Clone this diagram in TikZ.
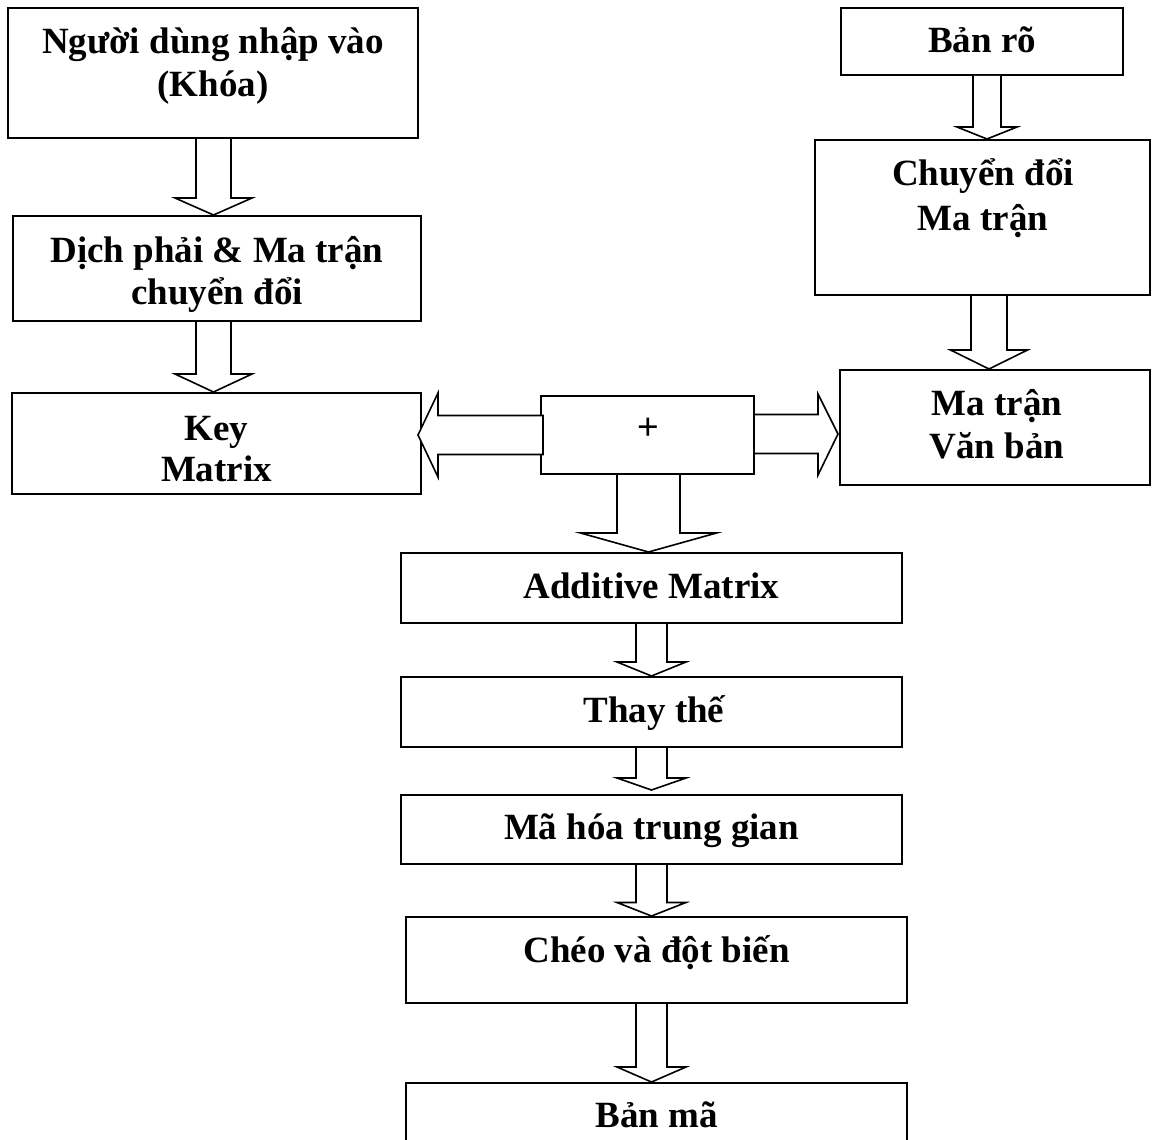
\documentclass[tikz,border=0pt]{standalone}
\usepackage{fontspec}
\setmainfont{Liberation Serif}
\newfontfamily\plusfont{Liberation Sans}
\usetikzlibrary{calc}
\tikzset{
  box/.style={draw, line width=2pt, inner sep=0pt, fill=white},
  txt/.style={anchor=base, inner sep=0pt, font=\bfseries\fontsize{37}{42}\selectfont},
  blk/.style={draw, line width=1.6pt, line join=miter, fill=white},
}
% vertical block arrow: #1 x centre, #2 start anchor, #3 end anchor, #4 half shaft, #5 half head, #6 head length
\newcommand{\vblk}[6]{%
  \draw[blk] let \p1=(#2), \p2=(#3) in
    (#1pt-#4pt,\y1) -- (#1pt-#4pt,\y2+#6pt) -- (#1pt-#5pt,\y2+#6pt) -- (#1pt,\y2)
    -- (#1pt+#5pt,\y2+#6pt) -- (#1pt+#4pt,\y2+#6pt) -- (#1pt+#4pt,\y1);}
\begin{document}
\begin{tikzpicture}[x=1pt,y=-1pt]
\useasboundingbox (0,0) rectangle (1152,1140);
\clip (0,0) rectangle (1152,1140);
% boxes
\node[box, minimum width=410pt, minimum height=130pt] (b1) at (213,73) {};
\node[box, minimum width=408pt, minimum height=105pt] (b2) at (217,268.5) {};
\node[box, minimum width=409pt, minimum height=101pt] (b3) at (216.5,443.5) {};
\node[box, minimum width=282pt, minimum height=67pt] (b4) at (982,41.5) {};
\node[box, minimum width=335pt, minimum height=155pt] (b5) at (982.5,217.5) {};
\node[box, minimum width=310pt, minimum height=115pt] (b6) at (995,427.5) {};
\node[box, minimum width=213pt, minimum height=78pt] (plus) at (647.5,435) {};
\node[box, minimum width=501pt, minimum height=70pt] (b7) at (651.5,588) {};
\node[box, minimum width=501pt, minimum height=70pt] (b8) at (651.5,712) {};
\node[box, minimum width=501pt, minimum height=69pt] (b9) at (651.5,829.5) {};
\node[box, minimum width=501pt, minimum height=86pt] (b10) at (656.5,960) {};
\node[box, minimum width=501pt, minimum height=77pt] (b11) at (656.5,1121.5) {};
% texts
\node[txt] (t1a) at (213,54) {Người dùng nhập vào};
\node[txt] (t1b) at (213,96) {(Khóa)};
\node[txt] (t2a) at (217,262) {Dịch phải \& Ma trận};
\node[txt] (t2b) at (217,304) {chuyển đổi};
\node[txt] (t3a) at (216.5,440) {Key};
\node[txt] (t3b) at (216.5,481) {Matrix};
\node[txt] (t4) at (982,53) {Bản rõ};
\node[txt] (t5a) at (983,185) {Chuyển đổi};
\node[txt] (t5b) at (983,230) {Ma trận};
\node[txt] (t6a) at (997,415) {Ma trận};
\node[txt] (t6b) at (997,458) {Văn bản};
\node[inner sep=0pt, font=\plusfont\fontsize{37}{42}\selectfont] (tp) at (648,429) {+};
\node[txt] (t7) at (651.5,598) {Additive Matrix};
\node[txt] (t8) at (654,722.5) {Thay thế};
\node[txt] (t9) at (651.5,839) {Mã hóa trung gian};
\node[txt] (t10) at (656.5,962) {Chéo và đột biến};
\node[txt] (t11) at (656.5,1127) {Bản mã};
% vertical block arrows
\vblk{213.5}{b1.south}{b2.north}{17.5}{38.5}{17}
\vblk{213.5}{b2.south}{b3.north}{17.5}{38.5}{18}
\vblk{987}{b4.south}{b5.north}{14}{30}{12}
\vblk{989}{b5.south}{b6.north}{18}{38.5}{19}
\vblk{648.5}{plus.south}{b7.north}{31.5}{68}{19}
\vblk{651.5}{b7.south}{b8.north}{15.5}{34.5}{14}
\coordinate (c9) at ($(b9.north)+(0,-4)$);
\vblk{651.5}{b8.south}{c9}{15.5}{34.5}{12}
\vblk{651.5}{b9.south}{b10.north}{15.5}{34.5}{13.5}
\vblk{651.5}{b10.south}{b11.north}{15.5}{34.5}{15}
% horizontal block arrows
\draw[blk] let \p1=(plus.west), \p2=(b3.east) in
  (\x1+3pt,\y1+19.5pt) -- (\x2+16pt,\y1+19.5pt) -- (\x2+16pt,\y1+42pt) -- (\x2-4pt,\y1)
  -- (\x2+16pt,\y1-42pt) -- (\x2+16pt,\y1-19.5pt) -- (\x1+3pt,\y1-19.5pt) -- cycle;
\draw[blk] let \p1=(plus.east), \p2=(b6.west) in
  (\x1,\y1+20.5pt) -- (\x2-21pt,\y1+20.5pt) -- (\x2-21pt,\y1+41pt) -- (\x2-1pt,\y1+1pt)
  -- (\x2-21pt,\y1-40pt) -- (\x2-21pt,\y1-18.5pt) -- (\x1,\y1-18.5pt);
\end{tikzpicture}
\end{document}
